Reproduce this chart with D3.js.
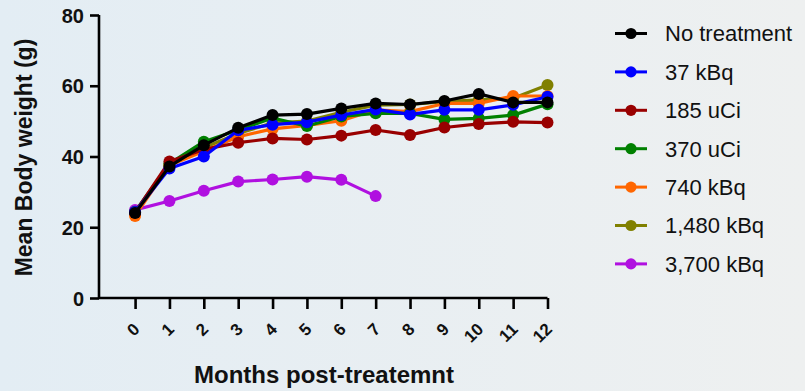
<!DOCTYPE html>
<html>
<head>
<meta charset="utf-8">
<script src="https://cdn.jsdelivr.net/npm/d3@7"></script>
<style>
html,body{margin:0;padding:0;overflow:hidden;}
svg{display:block;}
</style>
</head>
<body>
<svg id="chart" width="805" height="391"></svg>
<script>
const months = [0,1,2,3,4,5,6,7,8,9,10,11,12];
const seriesNames = ["No treatment","37 kBq","185 uCi","370 uCi","740 kBq","1,480 kBq","3,700 kBq"];
const noTreatment = [24.0, 37.2, 43.2, 48.1, 51.7, 52.0, 53.6, 55.0, 54.7, 55.7, 57.7, 55.3, 55.3];
const kBq37      = [24.3, 36.6, 40.0, 47.4, 49.0, 49.7, 51.7, 53.3, 51.9, 53.2, 53.2, 54.6, 56.9];
const uCi185     = [24.2, 38.6, 42.0, 43.9, 45.1, 44.8, 45.9, 47.5, 46.1, 48.2, 49.2, 49.8, 49.6];
const uCi370     = [24.4, 38.0, 44.2, 47.5, 50.9, 48.6, 51.3, 52.2, 52.2, 50.5, 50.8, 51.7, 54.8];
const kBq740     = [23.2, 37.5, 41.5, 45.6, 47.8, 48.8, 50.1, 53.2, 52.7, 55.0, 55.0, 57.1, 57.1];
const kBq1480    = [24.0, 37.5, 42.5, 46.5, 49.5, 50.0, 52.5, 54.5, 54.7, 55.5, 56.0, 56.5, 60.2];
const kBq3700    = [24.9, 27.4, 30.3, 32.9, 33.5, 34.3, 33.4, 28.8];
const yTicks = [0, 20, 40, 60, 80];
const seriesColors = ["#000000","#0000ff","#990000","#008000","#ff6600","#808000","#b010e0"];
const seriesValues = [noTreatment, kBq37, uCi185, uCi370, kBq740, kBq1480, kBq3700];

const svg = d3.select("#chart");
const W = 805, H = 391;

// background gradient
const defs = svg.append("defs");
const grad = defs.append("linearGradient").attr("id","bg").attr("x1","0").attr("y1","0").attr("x2","1").attr("y2","0");
grad.append("stop").attr("offset","0").attr("stop-color","#e3edf4");
grad.append("stop").attr("offset","1").attr("stop-color","#eef0f0");
svg.append("rect").attr("width",W).attr("height",H).attr("fill","url(#bg)");

const x = d3.scaleLinear().domain([-1.05, 12]).range([99, 547.5]);
const y = d3.scaleLinear().domain([0, 80]).range([298, 15]);

const FONT = "'Liberation Sans', Arial, Helvetica, sans-serif";

// Y axis
const yAxis = svg.append("g").attr("transform","translate(99,0)")
  .call(d3.axisLeft(y).tickValues(yTicks).tickSize(9).tickPadding(6).tickFormat(d3.format("d")));
yAxis.select(".domain").attr("stroke","#000").attr("stroke-width",2.6).attr("d", `M0,${y(80)}V${y(0)}`);
yAxis.selectAll(".tick line").attr("stroke","#000").attr("stroke-width",2.6);
yAxis.selectAll(".tick text").attr("font-family",FONT).attr("font-weight","bold").attr("font-size",20).attr("fill","#111").attr("x",-15).attr("dy","0.35em");

// X axis
const xAxis = svg.append("g").attr("transform","translate(0,298)")
  .call(d3.axisBottom(x).tickValues(months).tickSize(11).tickFormat(d3.format("d")));
xAxis.select(".domain").attr("stroke","#000").attr("stroke-width",2.6).attr("d", `M${x.range()[0]},0H${x.range()[1]}`);
xAxis.selectAll(".tick line").attr("stroke","#000").attr("stroke-width",2.6);
xAxis.selectAll(".tick text")
  .attr("font-family",FONT).attr("font-weight","bold").attr("font-size",17).attr("fill","#111")
  .attr("text-anchor","end").attr("x",0).attr("y",0).attr("dy","0.35em")
  .attr("transform","translate(1,28) rotate(-45)");

// Axis titles
svg.append("text").attr("x",324).attr("y",383).attr("text-anchor","middle")
  .attr("font-family",FONT).attr("font-weight","bold").attr("font-size",24).attr("fill","#111")
  .text("Months post-treatemnt");
svg.append("text").attr("transform","translate(32,157.5) rotate(-90)").attr("text-anchor","middle")
  .attr("font-family",FONT).attr("font-weight","bold").attr("font-size",23).attr("fill","#111")
  .text("Mean Body weight (g)");

// Series (draw last legend entry first so "No treatment" ends on top)
const line = d3.line().x((d,i)=>x(months[i])).y(d=>y(d));
const order = d3.range(seriesNames.length).reverse();
order.forEach(si => {
  const g = svg.append("g");
  const vals = seriesValues[si];
  g.append("path").attr("d", line(vals)).attr("fill","none")
    .attr("stroke", seriesColors[si]).attr("stroke-width",3.2).attr("stroke-linejoin","round");
  g.selectAll("circle").data(vals).enter().append("circle")
    .attr("cx",(d,i)=>x(months[i])).attr("cy",d=>y(d)).attr("r",6).attr("fill",seriesColors[si]);
});

// Legend
const legend = svg.append("g");
seriesNames.forEach((name, i) => {
  const ly = 33.5 + i*38.4;
  const g = legend.append("g").attr("transform",`translate(0,${ly})`);
  g.append("line").attr("x1",615).attr("x2",647).attr("y1",0).attr("y2",0).attr("stroke",seriesColors[i]).attr("stroke-width",3);
  g.append("circle").attr("cx",631).attr("cy",0).attr("r",5.6).attr("fill",seriesColors[i]);
  g.append("text").attr("x",665).attr("y",0).attr("dy","0.36em")
    .attr("font-family",FONT).attr("font-size",22).attr("fill","#111").text(name);
});
</script>
</body>
</html>
